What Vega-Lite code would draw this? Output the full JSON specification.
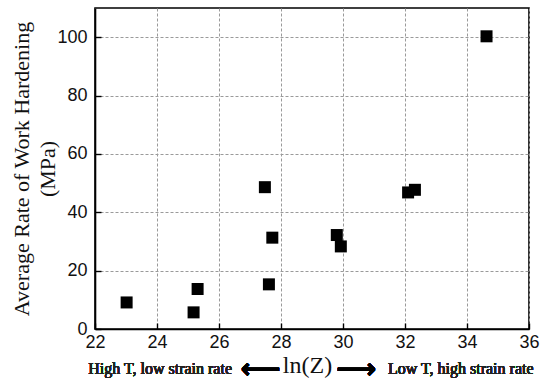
{
  "$schema": "https://vega.github.io/schema/vega-lite/v6.json",
  "width": 434,
  "height": 321,
  "autosize": {"type": "none"},
  "padding": {"left": 95, "top": 8, "right": 12, "bottom": 56},
  "background": "white",
  "config": {
    "view": {"stroke": "#000", "strokeWidth": 1.6},
    "axis": {
      "domainColor": "#000",
      "domainWidth": 1.6,
      "tickColor": "#000",
      "tickWidth": 1.4,
      "labelFont": "Liberation Sans",
      "labelFontSize": 18,
      "labelColor": "#111",
      "titleFont": "Liberation Serif",
      "titleFontWeight": "normal",
      "titleColor": "#111",
      "gridColor": "#9a9a9a",
      "gridDash": [3, 2],
      "gridWidth": 1
    }
  },
  "data": {
    "values": [
      {"lnZ": 23.02, "rate": 9.1},
      {"lnZ": 25.18, "rate": 5.7},
      {"lnZ": 25.31, "rate": 13.7},
      {"lnZ": 27.48, "rate": 48.6},
      {"lnZ": 27.61, "rate": 15.3},
      {"lnZ": 27.72, "rate": 31.3},
      {"lnZ": 29.80, "rate": 32.2},
      {"lnZ": 29.93, "rate": 28.3},
      {"lnZ": 32.10, "rate": 46.8},
      {"lnZ": 32.32, "rate": 47.7},
      {"lnZ": 34.63, "rate": 100.3}
    ]
  },
  "layer": [
    {
      "mark": {"type": "square", "size": 144, "filled": true, "color": "#000", "opacity": 1},
      "encoding": {
        "x": {
          "field": "lnZ", "type": "quantitative",
          "scale": {"domain": [22, 36], "nice": false, "zero": false},
          "axis": {
            "orient": "bottom",
            "values": [22, 23, 24, 25, 26, 27, 28, 29, 30, 31, 32, 33, 34, 35, 36],
            "labelExpr": "datum.value % 2 === 0 ? datum.label : ''",
            "tickSize": {"condition": {"test": "datum.value % 2 === 0", "value": -6}, "value": -4},
            "gridOpacity": {"condition": {"test": "datum.value % 2 === 0", "value": 1}, "value": 0},
            "labelPadding": 10,
            "labelFlush": false,
            "labelOverlap": false,
            "grid": true,
            "title": "ln(Z)",
            "titleFont": "Liberation Serif",
            "titleFontSize": 24,
            "titlePadding": 2,
            "titleX": 212
          }
        },
        "y": {
          "field": "rate", "type": "quantitative",
          "scale": {"domain": [0, 110], "nice": false, "zero": true},
          "axis": {
            "orient": "left",
            "values": [0, 10, 20, 30, 40, 50, 60, 70, 80, 90, 100],
            "labelExpr": "datum.value % 20 === 0 ? datum.label : ''",
            "tickSize": {"condition": {"test": "datum.value % 20 === 0", "value": -6}, "value": -4},
            "gridOpacity": {"condition": {"test": "datum.value % 20 === 0 && datum.value > 0", "value": 1}, "value": 0},
            "labelPadding": 14,
            "labelOverlap": false,
            "grid": true,
            "title": ["Average Rate of Work Hardening", "(MPa)"],
            "titleFont": "Liberation Serif",
            "titleFontSize": 22,
            "titleLineHeight": 26,
            "titlePadding": -3
          }
        }
      }
    },
    {
      "mark": {"type": "text", "font": "Liberation Serif", "fontSize": 16, "fontWeight": "normal", "color": "#222", "align": "right", "baseline": "alphabetic"},
      "encoding": {
        "x": {"datum": 26.42, "type": "quantitative"},
        "y": {"datum": -15.4, "type": "quantitative"},
        "text": {"value": "High T, low strain rate"}
      }
    },
    {
      "mark": {"type": "text", "font": "Liberation Serif", "fontSize": 16, "fontWeight": "normal", "color": "#222", "align": "left", "baseline": "alphabetic"},
      "encoding": {
        "x": {"datum": 31.45, "type": "quantitative"},
        "y": {"datum": -15.4, "type": "quantitative"},
        "text": {"value": "Low T, high strain rate"}
      }
    },
    {
      "mark": {"type": "text", "font": "DejaVu Sans", "fontWeight": "bold", "fontSize": 28, "color": "#000", "align": "center", "baseline": "middle"},
      "encoding": {
        "x": {"datum": 27.35, "type": "quantitative"},
        "y": {"datum": -14.0, "type": "quantitative"},
        "text": {"value": "⟵"}
      }
    },
    {
      "mark": {"type": "text", "font": "DejaVu Sans", "fontWeight": "bold", "fontSize": 28, "color": "#000", "align": "center", "baseline": "middle"},
      "encoding": {
        "x": {"datum": 30.42, "type": "quantitative"},
        "y": {"datum": -14.0, "type": "quantitative"},
        "text": {"value": "⟶"}
      }
    }
  ]
}
